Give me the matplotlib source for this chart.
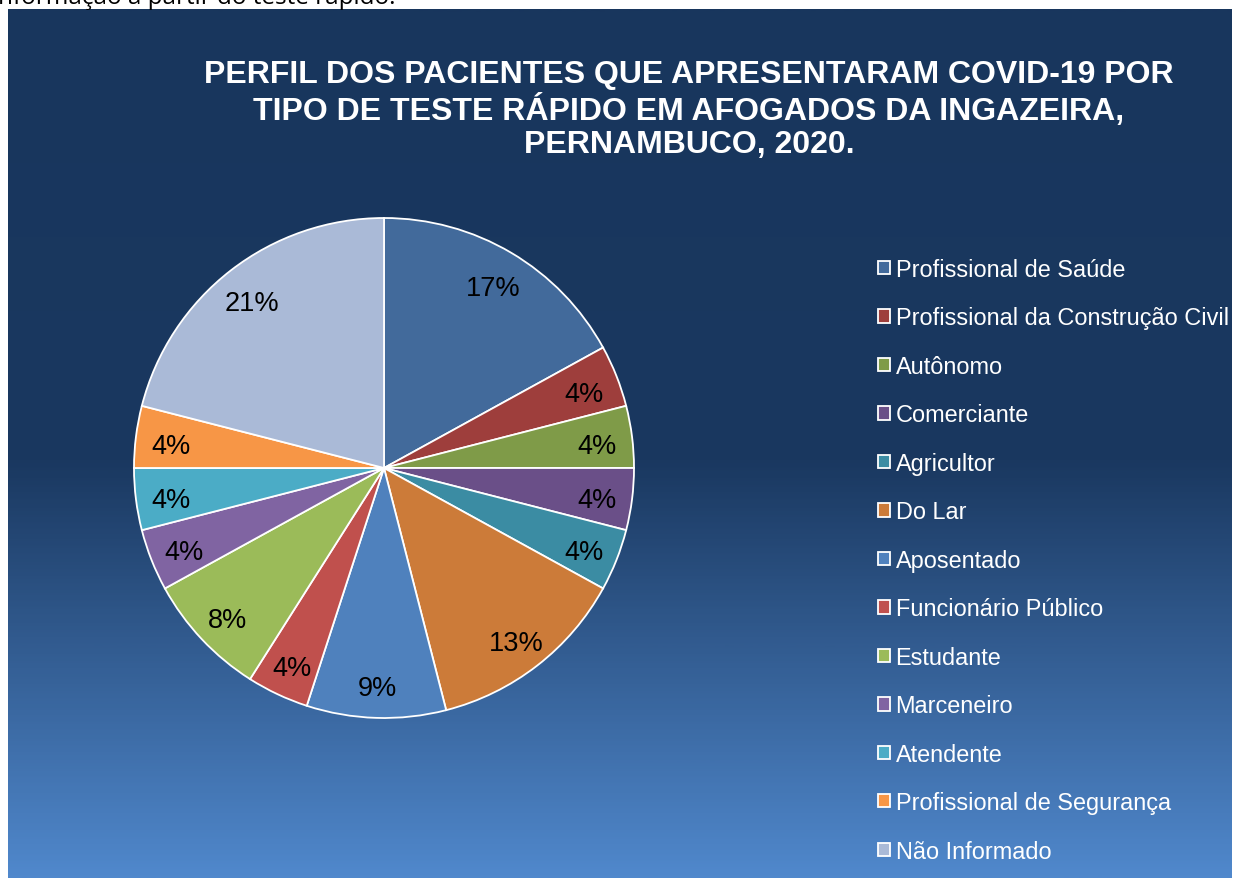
import numpy as np
import matplotlib
matplotlib.use('Agg')
import matplotlib.pyplot as plt
from matplotlib.colors import LinearSegmentedColormap

plt.rcParams['font.family'] = ['Liberation Sans', 'DejaVu Sans']

# occupation profile (percent)
categorias = ['Profissional de Saúde', 'Profissional da Construção Civil', 'Autônomo',
              'Comerciante', 'Agricultor', 'Do Lar', 'Aposentado', 'Funcionário Público',
              'Estudante', 'Marceneiro', 'Atendente', 'Profissional de Segurança',
              'Não Informado']
percentuais = [17, 4, 4, 4, 4, 13, 9, 4, 8, 4, 4, 4, 21]
cores = ['#426a9b', '#9e3e3c', '#7f9b48', '#6a4f88', '#3b8ca3', '#cc7b39', '#4f81bd',
         '#c0504d', '#9bbb59', '#8064a2', '#4bacc6', '#f79646', '#aabad7']

titulo = ('PERFIL DOS PACIENTES QUE APRESENTARAM COVID-19 POR\n'
          'TIPO DE TESTE RÁPIDO EM AFOGADOS DA INGAZEIRA,\n'
          'PERNAMBUCO, 2020.')

W, H = 1236, 879
fig = plt.figure(figsize=(W / 100, H / 100), dpi=100, facecolor='white')

# gradient panel behind the chart
x0, y0, x1, y1 = 8, 10, 1232, 879
bg = fig.add_axes([x0 / W, 1 - y1 / H, (x1 - x0) / W, (y1 - y0) / H])
grad = LinearSegmentedColormap.from_list(
    'oceano', [(0.0, '#18365d'), (0.52, '#1a3860'), (1.0, '#5088cc')])
bg.imshow(np.linspace(0, 1, 400).reshape(-1, 1), aspect='auto', cmap=grad,
          extent=[0, 1, 1, 0])
bg.set_axis_off()

# cut-off caption from the page above the chart
fig.text(-2 / W, 1 - 4 / H, 'nformação a partir do teste rápido.', fontsize=17.5,
         color='black', ha='left', va='baseline', family='Open Sans')

fig.text(689 / W, 1 - 110 / H, titulo, fontsize=23, fontweight='bold', color='white',
         ha='center', va='center', linespacing=1.15)

cx, cy, r = 384, 469, 250
ax = fig.add_axes([(cx - r) / W, 1 - (cy + r) / H, 2 * r / W, 2 * r / H])
wedges, _, autotexts = ax.pie(percentuais, colors=cores, startangle=90, counterclock=False,
                              autopct='%d%%', pctdistance=0.86,
                              wedgeprops=dict(edgecolor='white', linewidth=1.3),
                              textprops=dict(fontsize=19.5, color='black'))
# labels sit a touch lower in the original
for t in autotexts:
    px, py = t.get_position()
    t.set_position((px, py - 0.02))
ax.set_xlim(-1, 1)
ax.set_ylim(-1, 1)
ax.patch.set_alpha(0)

leg = fig.legend(wedges, categorias, loc='upper left',
                 bbox_to_anchor=(878 / W, 1 - 259 / H), frameon=False,
                 prop=dict(family='Liberation Sans', size=16.9), labelcolor='white',
                 handlelength=0.5, handleheight=0.5, handletextpad=0.25,
                 labelspacing=1.085, borderaxespad=0, borderpad=0)

fig.savefig('out.png', dpi=100, facecolor='white')
